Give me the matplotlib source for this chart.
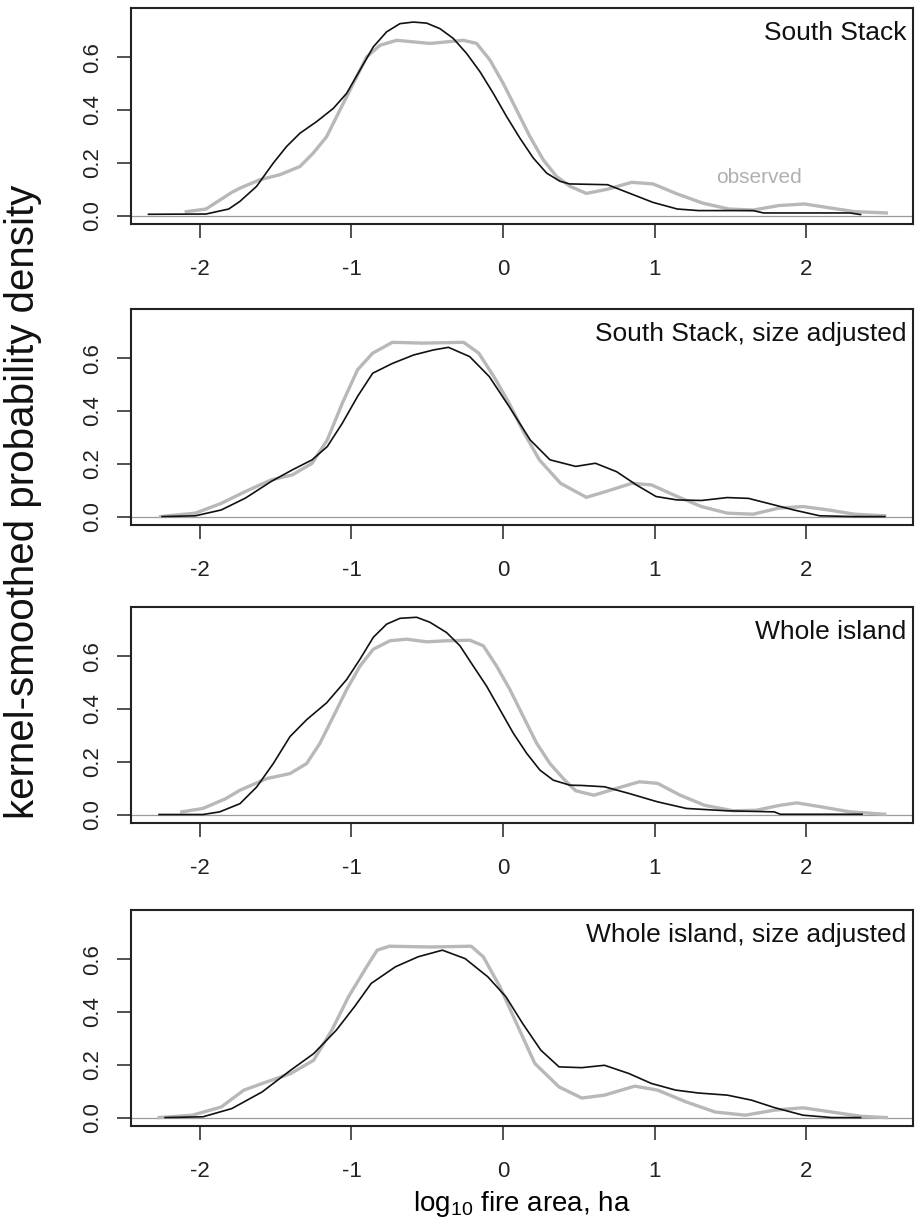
import matplotlib
matplotlib.use('Agg')
import matplotlib.pyplot as plt

plt.rcParams['font.family'] = ['Liberation Sans', 'DejaVu Sans']
plt.rcParams['mathtext.fontset'] = 'custom'
plt.rcParams['mathtext.rm'] = 'Liberation Sans'
plt.rcParams['mathtext.it'] = 'Liberation Sans:italic'

# kernel-smoothed densities of log10 fire area (observed = grey, model = black)
titles = ['South Stack', 'South Stack, size adjusted',
          'Whole island', 'Whole island, size adjusted']

# South Stack
ss_obs_x = [-2.09, -1.96, -1.79, -1.736, -1.604, -1.472, -1.34, -1.252, -1.164, -1.098, -1.032,
            -0.966, -0.90, -0.812, -0.702, -0.592, -0.482, -0.372, -0.262, -0.174, -0.086, 0.002,
            0.09, 0.178, 0.266, 0.354, 0.442, 0.55, 0.69, 0.85, 0.99, 1.15, 1.32, 1.49, 1.65,
            1.82, 1.99, 2.16, 2.32, 2.53]
ss_obs_y = [0.015, 0.025, 0.088, 0.104, 0.136, 0.155, 0.186, 0.237, 0.299, 0.375, 0.450,
            0.526, 0.601, 0.645, 0.664, 0.658, 0.652, 0.658, 0.664, 0.652, 0.589, 0.500,
            0.400, 0.299, 0.211, 0.148, 0.111, 0.084, 0.100, 0.126, 0.120, 0.082, 0.047, 0.025, 0.021,
            0.038, 0.044, 0.029, 0.015, 0.010]
ss_mod_x = [-2.34, -1.96, -1.81, -1.736, -1.626, -1.516, -1.428, -1.34, -1.23, -1.12, -1.032,
            -0.944, -0.856, -0.768, -0.68, -0.592, -0.504, -0.416, -0.328, -0.24, -0.152, -0.064,
            0.024, 0.112, 0.20, 0.288, 0.376, 0.44, 0.69, 0.82, 0.99, 1.15, 1.29, 1.65, 1.72,
            2.29, 2.36]
ss_mod_y = [0.005, 0.006, 0.025, 0.054, 0.111, 0.199, 0.262, 0.312, 0.356, 0.406, 0.463,
            0.551, 0.639, 0.696, 0.727, 0.733, 0.729, 0.708, 0.671, 0.614, 0.545, 0.463,
            0.375, 0.293, 0.218, 0.161, 0.130, 0.120, 0.117, 0.088, 0.050, 0.025, 0.019, 0.019, 0.010,
            0.010, 0.004]

# South Stack, size adjusted
ssa_obs_x = [-2.26, -2.03, -1.86, -1.70, -1.53, -1.39, -1.26, -1.16, -1.06, -0.96, -0.86, -0.73,
             -0.53, -0.26, -0.16, -0.06, 0.04, 0.14, 0.24, 0.38, 0.55, 0.68, 0.85, 0.98,
             1.15, 1.31, 1.48, 1.65, 1.82, 1.98, 2.15, 2.32, 2.52]
ssa_obs_y = [0.000, 0.013, 0.050, 0.095, 0.139, 0.158, 0.202, 0.290, 0.430, 0.556, 0.619, 0.660,
             0.657, 0.660, 0.619, 0.530, 0.430, 0.316, 0.215, 0.126, 0.073, 0.095, 0.126, 0.120,
             0.076, 0.038, 0.013, 0.009, 0.032, 0.038, 0.025, 0.009, 0.003]
ssa_mod_x = [-2.25, -2.03, -1.86, -1.70, -1.53, -1.39, -1.26, -1.16, -1.06, -0.96, -0.86, -0.73,
             -0.59, -0.46, -0.36, -0.22, -0.09, 0.04, 0.18, 0.31, 0.48, 0.61, 0.75, 0.88,
             1.01, 1.15, 1.31, 1.48, 1.62, 1.75, 1.92, 2.09, 2.32, 2.52]
ssa_mod_y = [0.000, 0.003, 0.025, 0.070, 0.133, 0.177, 0.215, 0.265, 0.354, 0.455, 0.543, 0.580,
             0.612, 0.631, 0.641, 0.606, 0.530, 0.417, 0.290, 0.215, 0.190, 0.202, 0.170, 0.120,
             0.076, 0.063, 0.061, 0.072, 0.069, 0.050, 0.025, 0.003, 0.000, 0.000]

# Whole island
wi_obs_x = [-2.12, -1.98, -1.83, -1.736, -1.56, -1.406, -1.296, -1.208, -1.12, -1.032, -0.944,
            -0.856, -0.746, -0.636, -0.504, -0.372, -0.218, -0.13, -0.042, 0.046, 0.134, 0.222,
            0.31, 0.398, 0.442, 0.48, 0.60, 0.75, 0.90, 1.02, 1.17, 1.33, 1.52, 1.67, 1.83,
            1.94, 2.10, 2.29, 2.52]
wi_obs_y = [0.010, 0.023, 0.060, 0.092, 0.136, 0.155, 0.193, 0.270, 0.371, 0.473, 0.562,
            0.626, 0.658, 0.664, 0.654, 0.658, 0.660, 0.639, 0.562, 0.473, 0.371, 0.270,
            0.193, 0.136, 0.111, 0.090, 0.073, 0.099, 0.124, 0.118, 0.073, 0.035, 0.014, 0.016, 0.035,
            0.044, 0.029, 0.010, 0.001]
wi_mod_x = [-2.27, -1.98, -1.87, -1.736, -1.626, -1.516, -1.406, -1.296, -1.164, -1.032, -0.944,
            -0.856, -0.768, -0.68, -0.57, -0.482, -0.372, -0.284, -0.196, -0.108, -0.02, 0.068,
            0.156, 0.244, 0.332, 0.442, 0.52, 0.67, 0.83, 1.02, 1.21, 1.48, 1.79, 1.83, 2.37]
wi_mod_y = [0.000, 0.000, 0.010, 0.041, 0.104, 0.193, 0.295, 0.359, 0.423, 0.511, 0.588,
            0.671, 0.721, 0.743, 0.747, 0.728, 0.689, 0.639, 0.562, 0.486, 0.397, 0.308,
            0.232, 0.168, 0.130, 0.111, 0.110, 0.105, 0.080, 0.048, 0.023, 0.014, 0.010, 0.001, 0.001]

# Whole island, size adjusted
wia_obs_x = [-2.27, -2.05, -1.86, -1.71, -1.56, -1.40, -1.25, -1.13, -1.02, -0.90, -0.83, -0.75,
             -0.48, -0.21, -0.13, -0.02, 0.10, 0.21, 0.37, 0.52, 0.67, 0.87, 1.02, 1.21,
             1.40, 1.60, 1.79, 1.98, 2.17, 2.36, 2.53]
wia_obs_y = [0.000, 0.009, 0.040, 0.104, 0.135, 0.167, 0.217, 0.331, 0.457, 0.571, 0.634, 0.649,
             0.646, 0.649, 0.609, 0.495, 0.343, 0.205, 0.116, 0.074, 0.085, 0.119, 0.104, 0.059,
             0.021, 0.009, 0.028, 0.037, 0.021, 0.005, 0.000]
wia_mod_x = [-2.23, -1.98, -1.79, -1.59, -1.40, -1.25, -1.10, -0.98, -0.87, -0.71, -0.56, -0.40,
             -0.25, -0.10, 0.02, 0.13, 0.25, 0.37, 0.52, 0.67, 0.83, 0.98, 1.14, 1.29,
             1.48, 1.64, 1.79, 1.98, 2.17, 2.36]
wia_mod_y = [0.000, 0.003, 0.034, 0.097, 0.180, 0.242, 0.331, 0.420, 0.508, 0.571, 0.609, 0.634,
             0.602, 0.533, 0.457, 0.356, 0.255, 0.192, 0.189, 0.198, 0.167, 0.129, 0.104, 0.093,
             0.085, 0.066, 0.038, 0.009, 0.000, 0.000]

observed = [(ss_obs_x, ss_obs_y), (ssa_obs_x, ssa_obs_y), (wi_obs_x, wi_obs_y), (wia_obs_x, wia_obs_y)]
modelled = [(ss_mod_x, ss_mod_y), (ssa_mod_x, ssa_mod_y), (wi_mod_x, wi_mod_y), (wia_mod_x, wia_mod_y)]

x_ticks = [-2, -1, 0, 1, 2]
y_ticks = [0.0, 0.2, 0.4, 0.6]

fig = plt.figure(figsize=(9.15, 12.23), dpi=100)
bottoms = [0.8168, 0.5707, 0.3271, 0.0793]

for i, b in enumerate(bottoms):
    ax = fig.add_axes([0.1432, b, 0.8546, 0.1766])
    ax.axhline(0, color='#9a9a9a', lw=0.9, zorder=1)
    ox, oy = observed[i]
    mx, my = modelled[i]
    ax.plot(ox, oy, color='#b8b8b8', lw=2.4, solid_joinstyle='round', zorder=2)
    ax.plot(mx, my, color='#111111', lw=1.2, solid_joinstyle='round', zorder=3)
    ax.set_xlim(-2.455, 2.706)
    ax.set_ylim(-0.032, 0.786)
    ax.set_xticks(x_ticks)
    ax.set_xticklabels([str(t) for t in x_ticks])
    ax.set_yticks(y_ticks)
    ax.set_yticklabels(['%.1f' % t for t in y_ticks], rotation=90, va='center')
    ax.tick_params(axis='both', direction='out', length=10, width=1.1,
                   labelsize=16, color='#222222', labelcolor='#222222')
    ax.tick_params(axis='x', pad=15)
    ax.tick_params(axis='y', pad=10)
    for s in ax.spines.values():
        s.set_linewidth(1.5)
        s.set_color('#222222')
    ax.text(0.992, 0.94, titles[i], transform=ax.transAxes, ha='right', va='top',
            fontsize=19, color='#111111')
    if i == 0:
        ax.text(1.69, 0.145, 'observed', ha='center', va='center', fontsize=15,
                color='#b0b0b0')
    if i == 3:
        ax.set_xlabel(r'log$_{\mathrm{10}}$ fire area, ha', fontsize=20, labelpad=5)

fig.text(0.025, 0.59, 'kernel-smoothed probability density', rotation=90,
         ha='center', va='center', fontsize=29, color='#111111')

fig.savefig('out.png', dpi=100)
